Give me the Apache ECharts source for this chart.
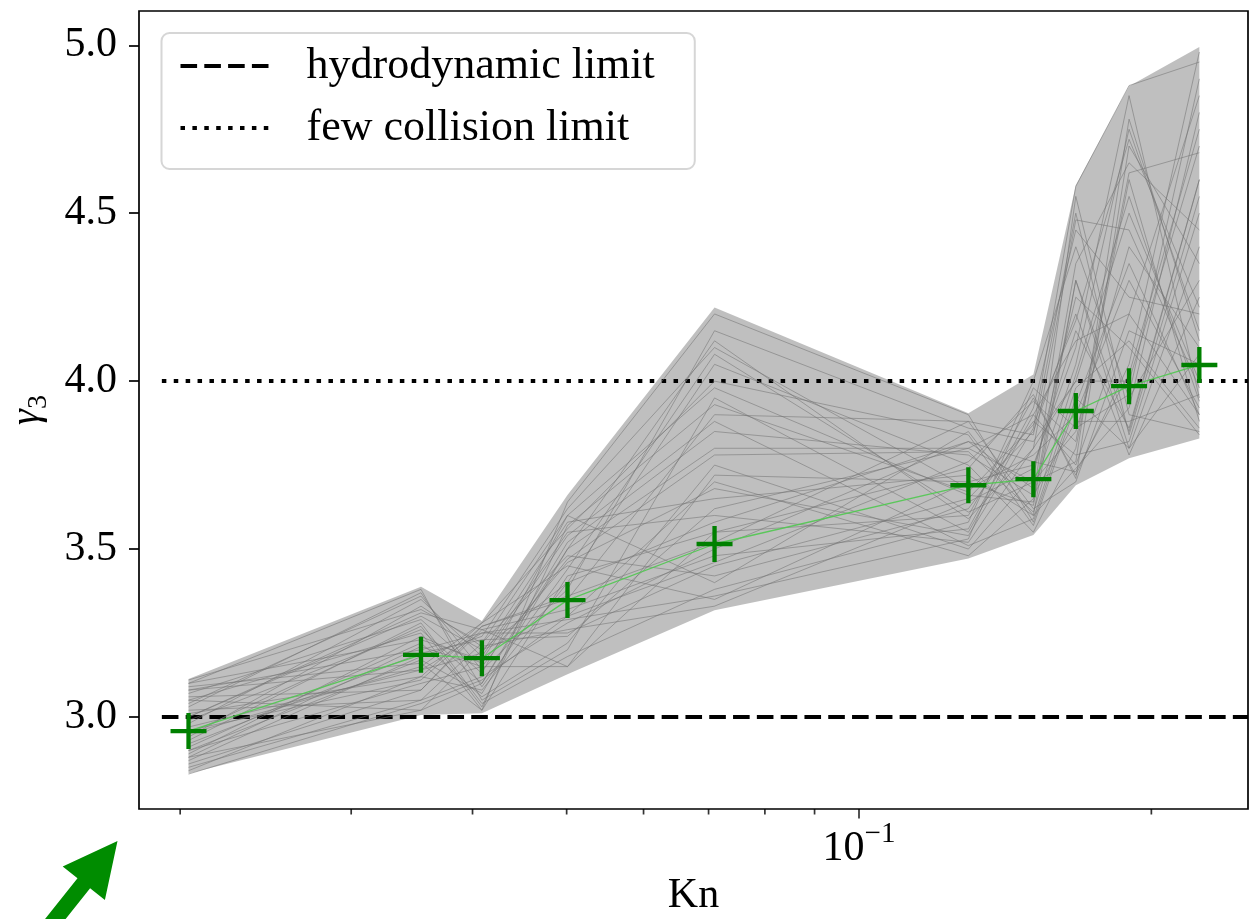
<!DOCTYPE html>
<html>
<head>
<meta charset="utf-8">
<script src="https://cdn.jsdelivr.net/npm/echarts@6/dist/echarts.min.js"></script>
<style>
html, body { margin: 0; padding: 0; background: #fff; }
#chart { width: 1257px; height: 919px; }
</style>
</head>
<body>
<div id="chart"></div>
<script>
// Knudsen numbers of the runs
var kn = [0.0204, 0.0354, 0.0409, 0.0501, 0.0710, 0.1296, 0.1512, 0.1672, 0.1897, 0.2241];
// mean gamma_3 (green crosses)
var meanGamma = [2.958, 3.185, 3.175, 3.348, 3.515, 3.690, 3.708, 3.911, 3.985, 4.048];
// spread of the sampled curves at each Kn
var envLo = [2.832, 3.006, 3.011, 3.127, 3.318, 3.472, 3.542, 3.690, 3.770, 3.829];
var envHi = [3.113, 3.388, 3.286, 3.661, 4.219, 3.904, 4.020, 4.583, 4.878, 4.995];
// some of the grey sample curves
var samples = [
  [2.85, 3.05, 3.22, 3.60, 3.40, 3.85, 3.60, 4.30, 3.85, 4.60],
  [3.10, 3.38, 3.05, 3.20, 3.95, 3.55, 3.90, 3.75, 4.20, 3.90],
  [2.95, 3.15, 3.28, 3.45, 3.35, 3.70, 3.75, 4.10, 4.85, 3.95],
  [3.05, 3.25, 3.02, 3.64, 4.20, 3.90, 3.58, 3.95, 3.80, 4.40],
  [2.90, 3.10, 3.15, 3.15, 3.55, 3.60, 3.95, 3.72, 4.05, 4.98],
  [3.00, 3.30, 3.20, 3.30, 3.70, 3.48, 3.65, 4.55, 3.90, 3.85],
  [2.88, 3.02, 3.10, 3.50, 3.80, 3.80, 3.70, 3.85, 4.40, 4.10],
  [3.08, 3.20, 3.25, 3.25, 3.45, 3.65, 3.85, 4.20, 3.78, 4.25],
  [2.84, 3.12, 3.08, 3.40, 4.05, 3.75, 3.55, 3.80, 4.60, 3.88],
  [2.98, 3.35, 3.18, 3.55, 3.60, 3.52, 3.80, 4.00, 4.00, 4.70],
  [3.06, 3.08, 3.27, 3.35, 3.90, 3.88, 3.62, 3.70, 4.15, 4.05],
  [2.93, 3.28, 3.04, 3.18, 3.38, 3.58, 4.00, 4.40, 3.95, 4.30],
  [2.87, 3.18, 3.24, 3.62, 4.10, 3.68, 3.78, 3.90, 4.30, 3.92],
  [3.02, 3.05, 3.12, 3.28, 3.50, 3.82, 3.68, 4.05, 4.75, 4.15],
  [3.11, 3.32, 3.22, 3.48, 3.42, 3.62, 3.88, 3.78, 3.82, 4.50],
  [2.91, 3.22, 3.06, 3.22, 3.75, 3.50, 3.72, 4.25, 4.10, 3.84],
  [2.97, 3.14, 3.19, 3.58, 3.65, 3.72, 3.60, 3.74, 3.92, 4.80],
  [3.04, 3.36, 3.14, 3.38, 4.15, 3.86, 3.82, 4.00, 4.50, 4.00],
  [2.86, 3.08, 3.26, 3.32, 3.48, 3.56, 3.92, 4.45, 4.25, 4.20],
  [2.99, 3.26, 3.10, 3.52, 3.85, 3.78, 3.66, 3.88, 3.88, 3.96],
  [3.09, 3.16, 3.02, 3.42, 3.55, 3.74, 3.96, 3.71, 4.70, 4.35],
  [2.94, 3.33, 3.21, 3.26, 3.33, 3.64, 3.74, 4.15, 3.86, 4.60],
  [3.01, 3.12, 3.28, 3.56, 4.00, 3.84, 3.57, 3.93, 4.35, 3.90],
  [2.89, 3.24, 3.16, 3.46, 3.68, 3.54, 3.86, 4.58, 4.88, 4.95],
  [3.07, 3.29, 3.13, 3.60, 3.98, 3.66, 3.64, 4.35, 4.65, 4.45],
  [2.92, 3.19, 3.23, 3.24, 3.62, 3.80, 3.90, 4.12, 4.20, 4.85],
  [3.03, 3.37, 3.09, 3.44, 4.08, 3.61, 3.70, 3.76, 4.78, 4.12],
  [2.96, 3.11, 3.27, 3.36, 3.52, 3.88, 3.84, 4.50, 3.84, 4.55],
  [3.10, 3.23, 3.17, 3.54, 3.88, 3.51, 3.59, 3.98, 4.12, 3.86],
  [2.83, 3.04, 3.11, 3.30, 3.46, 3.76, 3.94, 3.82, 4.62, 4.68],
  [3.00, 3.31, 3.26, 3.15, 3.72, 3.70, 3.63, 4.30, 3.80, 4.08],
  [2.90, 3.17, 3.07, 3.50, 4.12, 3.59, 3.80, 4.48, 4.45, 3.98],
  [3.05, 3.02, 3.20, 3.40, 3.58, 3.82, 3.76, 3.73, 4.02, 4.75],
  [2.95, 3.27, 3.03, 3.57, 3.93, 3.67, 3.87, 4.18, 4.72, 4.22],
  [3.08, 3.14, 3.25, 3.29, 3.36, 3.53, 3.98, 3.86, 3.96, 4.90],
  [2.88, 3.21, 3.15, 3.47, 3.78, 3.79, 3.61, 4.02, 4.55, 3.94]
];
var hydroLimit = 3.0;
var fewCollLimit = 4.0;
var limitKn = [0.01915, 0.2515];
var yTicks = [3.0, 3.5, 4.0, 4.5, 5.0];
var minorKn = [0.02, 0.03, 0.04, 0.05, 0.06, 0.07, 0.08, 0.09, 0.2];
var majorKn = [0.1];

var xMin = 0.01814, xMax = 0.2515;
var yMin = 2.726, yMax = 5.102;
var FONT = "'Liberation Serif', 'DejaVu Serif', serif";
var DASHED = [16.6, 7.2], DOTTED = [4.5, 7.4];

var myChart = echarts.init(document.getElementById('chart'));

var series = [];

series.push({
  name: 'hydrodynamic limit',
  type: 'line',
  data: [[limitKn[0], hydroLimit], [limitKn[1], hydroLimit]],
  symbol: 'none',
  silent: true,
  itemStyle: { color: '#000' },
  lineStyle: { color: '#000', width: 4, type: DASHED, cap: 'butt' }
});
series.push({
  name: 'few collision limit',
  type: 'line',
  data: [[limitKn[0], fewCollLimit], [limitKn[1], fewCollLimit]],
  symbol: 'none',
  silent: true,
  itemStyle: { color: '#000' },
  lineStyle: { color: '#000', width: 4, type: DOTTED, cap: 'butt' }
});

// grey band covering all sampled curves
series.push({
  type: 'custom',
  silent: true,
  data: [[kn[0], envLo[0]]],
  encode: { x: 0, y: 1 },
  renderItem: function (params, api) {
    var pts = [];
    for (var i = 0; i < kn.length; i++) pts.push(api.coord([kn[i], envHi[i]]));
    for (var j = kn.length - 1; j >= 0; j--) pts.push(api.coord([kn[j], envLo[j]]));
    return { type: 'polygon', shape: { points: pts }, style: { fill: 'rgba(128,128,128,0.5)' } };
  }
});

for (var s = 0; s < samples.length; s++) {
  var d = [];
  for (var k = 0; k < kn.length; k++) d.push([kn[k], samples[s][k]]);
  series.push({
    type: 'line',
    data: d,
    symbol: 'none',
    silent: true,
    lineStyle: { color: 'rgba(115,115,115,0.55)', width: 1 }
  });
}

var meanData = [];
for (var m = 0; m < kn.length; m++) meanData.push([kn[m], meanGamma[m]]);
series.push({
  type: 'line',
  data: meanData,
  symbol: 'path://M-0.12,-1H0.12V-0.12H1V0.12H0.12V1H-0.12V0.12H-1V-0.12H-0.12Z',
  symbolSize: 36,
  showAllSymbol: true,
  silent: true,
  itemStyle: { color: '#008000' },
  lineStyle: { color: 'rgba(80,200,80,0.9)', width: 1.3 }
});

// x ticks (log minor + major)
var minorData = minorKn.map(function (v) { return [v, yMin]; });
var majorData = majorKn.map(function (v) { return [v, yMin]; });
series.push({
  type: 'scatter', data: minorData, clip: false, silent: true,
  symbol: 'rect', symbolSize: [1.7, 5.5], symbolOffset: [0, 2.75],
  itemStyle: { color: '#000' }
});
series.push({
  type: 'scatter', data: majorData, clip: false, silent: true,
  symbol: 'rect', symbolSize: [1.7, 9.5], symbolOffset: [0, 4.75],
  itemStyle: { color: '#000' }
});

var option = {
  animation: false,
  backgroundColor: '#fff',
  grid: {
    left: 139, right: 9, top: 11, bottom: 110,
    show: true, borderColor: '#000', borderWidth: 1.7,
    outerBoundsMode: 'none'
  },
  legend: {
    data: [
      { name: 'hydrodynamic limit', lineStyle: { color: '#000', width: 4, type: DASHED, cap: 'butt' } },
      { name: 'few collision limit', lineStyle: { color: '#000', width: 4, type: DOTTED, cap: 'butt' } }
    ],
    orient: 'vertical',
    left: 161.5, top: 33,
    padding: [9, 40, 17, 17],
    itemWidth: 88, itemHeight: 14, itemGap: 14,
    backgroundColor: 'rgba(255,255,255,0.8)',
    borderColor: '#d6d6d6', borderWidth: 2, borderRadius: 8,
    selectedMode: false,
    itemStyle: { opacity: 0 },
    textStyle: { fontFamily: FONT, fontSize: 44, color: '#000', lineHeight: 48, padding: [0, 0, 0, 33] }
  },
  xAxis: {
    type: 'log',
    logBase: 10,
    min: xMin, max: xMax,
    name: 'Kn',
    nameLocation: 'middle',
    nameGap: 66,
    nameTextStyle: { fontFamily: FONT, fontSize: 42, color: '#000' },
    axisLine: { show: false },
    axisTick: { show: false },
    splitLine: { show: false },
    axisLabel: {
      showMinLabel: false, showMaxLabel: false,
      margin: 11,
      formatter: function (v) {
        return Math.abs(Math.log10(v) + 1) < 1e-6 ? '{a|10}{b|\u22121}' : '';
      },
      rich: {
        a: { fontFamily: FONT, fontSize: 42, color: '#000', lineHeight: 50, verticalAlign: 'bottom' },
        b: { fontFamily: FONT, fontSize: 29, color: '#000', lineHeight: 50, verticalAlign: 'top' }
      }
    }
  },
  yAxis: {
    type: 'value',
    min: yMin, max: yMax,
    name: '{g|\u03b3}{s|3}',
    nameLocation: 'middle',
    nameRotate: 90,
    nameGap: 86,
    nameTextStyle: {
      rich: {
        g: { fontFamily: FONT, fontSize: 40, fontStyle: 'italic', color: '#000', lineHeight: 46, verticalAlign: 'top' },
        s: { fontFamily: FONT, fontSize: 28, color: '#000', lineHeight: 46, verticalAlign: 'bottom' }
      }
    },
    axisLine: { show: false },
    splitLine: { show: false },
    axisTick: { show: true, customValues: yTicks, length: 10, lineStyle: { color: '#000', width: 1.7 } },
    axisLabel: {
      customValues: yTicks,
      margin: 22,
      fontFamily: FONT, fontSize: 42, color: '#000',
      formatter: function (v) { return v.toFixed(1); }
    }
  },
  graphic: [{
    type: 'polygon',
    silent: true,
    shape: { points: [[117.5, 841], [104.9, 900.1], [90.1, 888.3], [46.4, 943.1], [33.8, 933.1], [77.5, 878.3], [62.7, 866.5]] },
    style: { fill: '#008c00' }
  }],
  series: series
};

myChart.setOption(option);
</script>
</body>
</html>
